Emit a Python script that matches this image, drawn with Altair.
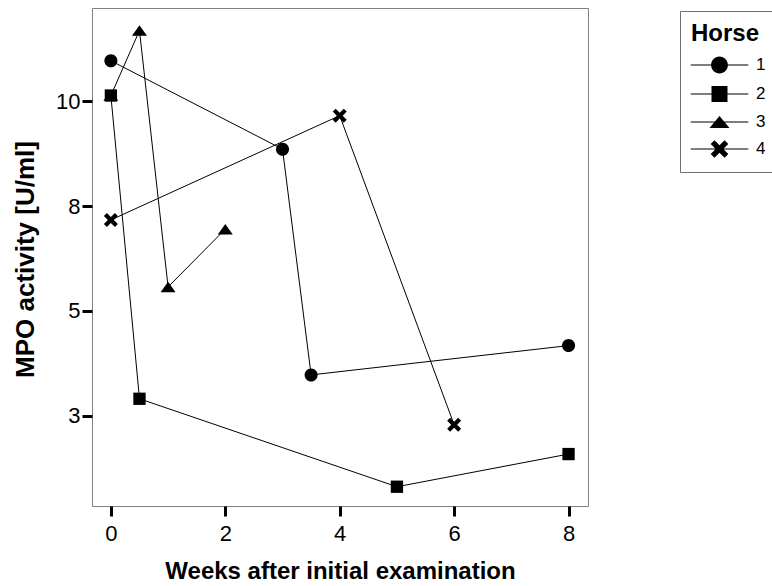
import math
import altair as alt
import pandas as pd

# ---- data ----
horses = ["1", "2", "3", "4"]
weeks_h1 = [0, 3, 3.5, 8]
mpo_h1 = [10.97, 8.86, 3.47, 4.17]
weeks_h2 = [0, 0.5, 5, 8]
mpo_h2 = [10.14, 2.90, 0.80, 1.58]
weeks_h3 = [0, 0.5, 1, 2]
mpo_h3 = [10.14, 11.69, 5.57, 6.95]
weeks_h4 = [0, 4, 6]
mpo_h4 = [7.17, 9.66, 2.28]

x_ticks = [0, 2, 4, 6, 8]
y_ticks = [2.5, 5, 7.5, 10]

rows = []
for h, wk, mp in zip(horses, [weeks_h1, weeks_h2, weeks_h3, weeks_h4],
                     [mpo_h1, mpo_h2, mpo_h3, mpo_h4]):
    for w, m in zip(wk, mp):
        rows.append({"Horse": h, "Weeks": w, "MPO": m})
df = pd.DataFrame(rows)

FONT = "Liberation Sans"


# ---- marker shapes (style) ----
def circle(r):
    return f"M{r:.3f},0A{r:.3f},{r:.3f},0,1,1,{-r:.3f},0A{r:.3f},{r:.3f},0,1,1,{r:.3f},0Z"


def square(s):
    return f"M{-s:.3f},{-s:.3f}H{s:.3f}V{s:.3f}H{-s:.3f}Z"


def triangle(w, h):
    return f"M0,{-h:.3f}L{w:.3f},{h:.3f}H{-w:.3f}Z"


def xcross(a, ext):
    b = math.sqrt(2) * ext - a
    pts = [(a, -b), (a, -a), (b, -a), (b, a), (a, a), (a, b), (-a, b), (-a, a),
           (-b, a), (-b, -a), (-a, -a), (-a, -b)]
    rot = [((x - y) / math.sqrt(2), (x + y) / math.sqrt(2)) for x, y in pts]
    return "M" + "L".join(f"{x:.3f},{y:.3f}" for x, y in rot) + "Z"


def bar(half_len, half_th):
    return f"M{-half_len:.3f},{-half_th:.3f}H{half_len:.3f}V{half_th:.3f}H{-half_len:.3f}Z"


plot_shapes = [circle(0.93), square(0.88), triangle(1.07, 0.75), xcross(0.3, 1.0)]

# legend symbols: unit = 14 px (symbol size 784); a thin bar is the line sample
k = 8 / 14
seg = bar(3.6 * k, 0.065 * k)
legend_shapes = [seg + circle(1.05 * k), seg + square(1.0 * k),
                 seg + triangle(1.25 * k, 0.75 * k), seg + xcross(0.33 * k, 1.1 * k)]

x_scale = alt.Scale(domain=[-0.33, 8.34], nice=False, zero=False)
y_scale = alt.Scale(domain=[0.34, 12.23], nice=False, zero=False)

x_enc = alt.X("Weeks:Q", scale=x_scale, title="Weeks after initial examination",
              axis=alt.Axis(values=x_ticks, format="d", domain=False, grid=False,
                            tickColor="black", tickWidth=3, tickSize=10,
                            labelFont=FONT, labelFontSize=22, labelColor="black",
                            labelPadding=7, titleFont=FONT, titleFontSize=24,
                            titleFontWeight="bold", titleColor="black",
                            titleY=72, titleBaseline="alphabetic"))
y_enc = alt.Y("MPO:Q", scale=y_scale, title="MPO activity [U/ml]",
              axis=alt.Axis(values=y_ticks, format=".0f", domain=False, grid=False,
                            tickColor="black", tickWidth=3, tickSize=10,
                            labelFont=FONT, labelFontSize=22, labelColor="black",
                            labelPadding=2, titleFont=FONT, titleFontSize=26,
                            titleFontWeight="bold", titleColor="black",
                            titleX=-59, titleY=251, titleBaseline="alphabetic"))

base = alt.Chart(df)

lines = base.mark_line(color="black", strokeWidth=1).encode(
    x=x_enc, y=y_enc, detail="Horse:N", order="Weeks:Q")

points = base.transform_calculate(
    draw="datum.Horse == '3' ? 0 : 1"
).mark_point(filled=True, color="black", opacity=1, size=196).encode(
    x=x_enc, y=y_enc,
    shape=alt.Shape("Horse:N", scale=alt.Scale(domain=horses, range=plot_shapes),
                    legend=None),
    order=alt.Order("draw:Q"))

legend_layer = base.transform_filter("false").mark_point(
    filled=True, color="black", opacity=1, size=784
).encode(
    shape=alt.Shape("Horse:N", scale=alt.Scale(domain=horses, range=legend_shapes),
                    legend=alt.Legend(
                        title="Horse", orient="none", legendX=588, legendY=3,
                        titleFont=FONT, titleFontSize=24, titleFontWeight="bold",
                        titleColor="black", titlePadding=4,
                        labelFont=FONT, labelFontSize=17, labelColor="black",
                        labelOffset=21.5, symbolOffset=13.5, rowPadding=2,
                        symbolSize=784,
                        padding=11, strokeColor="#707070", fillColor="white",
                        symbolFillColor="black", symbolOpacity=1)))

chart = alt.layer(lines, points, legend_layer).resolve_scale(
    shape="independent").resolve_legend(shape="independent").properties(
    width=496, height=498, autosize=alt.AutoSizeParams(type="none"),
    padding={"left": 92, "top": 8, "right": 184, "bottom": 80},
    background="white"
).configure_view(stroke="#808080", strokeWidth=1)

chart.save("out.html", embed_options={"renderer": "svg", "actions": False})
